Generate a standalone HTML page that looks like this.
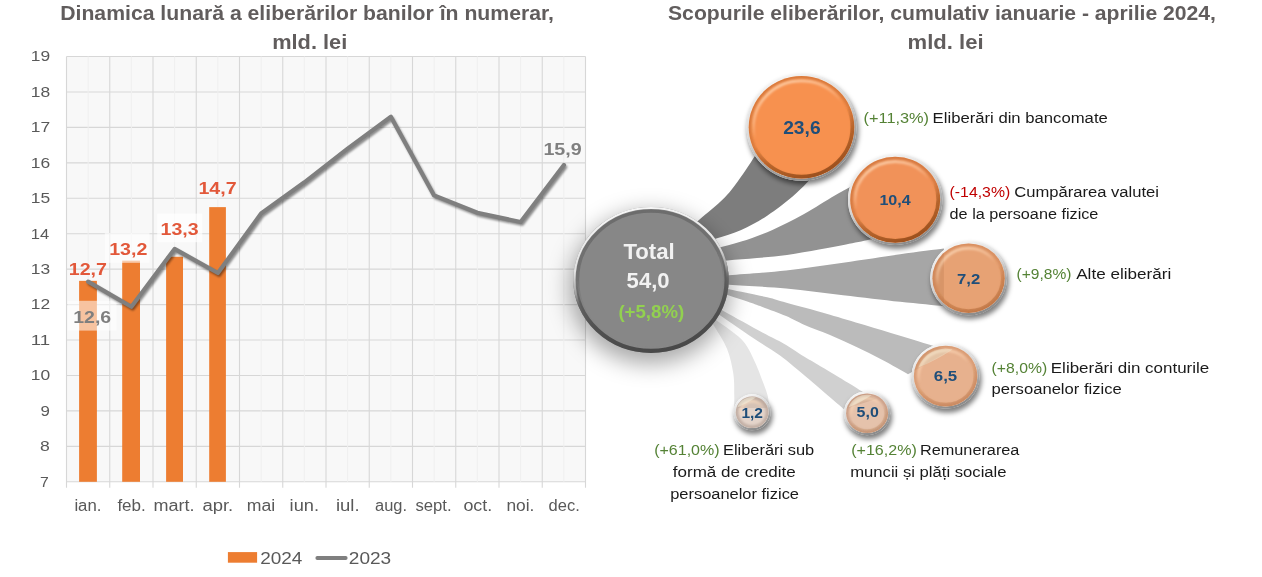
<!DOCTYPE html>
<html lang="ro"><head><meta charset="utf-8"><title>Eliberări numerar</title>
<style>html,body{margin:0;padding:0;background:#fff;}body{width:1262px;height:577px;overflow:hidden;}svg{display:block;}</style>
</head><body>
<svg width="1262" height="577" viewBox="0 0 1262 577" font-family='"Liberation Sans", sans-serif'>
<defs>
<filter id="sh" x="-50%" y="-50%" width="200%" height="200%"><feGaussianBlur stdDeviation="11"/></filter>
<filter id="sh2" x="-30%" y="-30%" width="160%" height="160%"><feGaussianBlur stdDeviation="2.6"/></filter>
<filter id="b1" x="-10%" y="-10%" width="120%" height="120%"><feGaussianBlur stdDeviation="1.3"/></filter>
<filter id="b05" x="-10%" y="-10%" width="120%" height="120%"><feGaussianBlur stdDeviation="0.7"/></filter>
<linearGradient id="eT" x1="0.4" y1="0" x2="0.6" y2="1">
 <stop offset="0" stop-color="#f6f6f6"/><stop offset="0.36" stop-color="#e0e0e0"/>
 <stop offset="0.5" stop-color="#a0a0a0"/><stop offset="0.58" stop-color="#6a6a6a" stop-opacity="0.6"/><stop offset="0.7" stop-color="#5a5a5a" stop-opacity="0"/><stop offset="1" stop-color="#4a4a4a" stop-opacity="0"/>
</linearGradient>
<linearGradient id="eT2" x1="0.4" y1="0" x2="0.6" y2="1">
 <stop offset="0" stop-color="#555" stop-opacity="0"/><stop offset="0.42" stop-color="#555" stop-opacity="0"/>
 <stop offset="0.56" stop-color="#5a5a5a" stop-opacity="0.9"/><stop offset="0.75" stop-color="#515151"/><stop offset="1" stop-color="#484848"/>
</linearGradient>
<linearGradient id="iT" x1="0.4" y1="0" x2="0.6" y2="1">
 <stop offset="0" stop-color="#6c6c6c"/><stop offset="0.4" stop-color="#727272"/>
 <stop offset="0.6" stop-color="#808080" stop-opacity="0.5"/><stop offset="1" stop-color="#878787" stop-opacity="0"/>
</linearGradient>
<linearGradient id="eO" x1="0.3" y1="0.05" x2="0.7" y2="0.95">
 <stop offset="0" stop-color="#f2f2f2"/><stop offset="0.45" stop-color="#d4d4d4"/>
 <stop offset="0.7" stop-color="#a8a8a8"/><stop offset="1" stop-color="#8c8c8c"/>
</linearGradient>
<linearGradient id="dO" x1="0.3" y1="0.05" x2="0.7" y2="0.95">
 <stop offset="0" stop-color="#a85a24" stop-opacity="0"/><stop offset="0.5" stop-color="#a85a24" stop-opacity="0"/>
 <stop offset="0.72" stop-color="#a85a24" stop-opacity="0.75"/><stop offset="1" stop-color="#9a4f1e" stop-opacity="0.95"/>
</linearGradient>
<linearGradient id="hO" x1="0.3" y1="0.05" x2="0.7" y2="0.95">
 <stop offset="0" stop-color="#ffe2c4" stop-opacity="0.7"/><stop offset="0.25" stop-color="#ffd9b8" stop-opacity="0.45"/>
 <stop offset="0.42" stop-color="#ffd9b8" stop-opacity="0"/><stop offset="1" stop-color="#ffd9b8" stop-opacity="0"/>
</linearGradient>
</defs>
<rect width="1262" height="577" fill="#ffffff"/>
<rect x="66.5" y="56.5" width="519.0" height="425.3" fill="#f8f8f8"/>
<line x1="66.5" y1="481.80" x2="585.5" y2="481.80" stroke="#d7d7d7" stroke-width="1.1"/>
<line x1="66.5" y1="446.36" x2="585.5" y2="446.36" stroke="#d7d7d7" stroke-width="1.1"/>
<line x1="66.5" y1="410.92" x2="585.5" y2="410.92" stroke="#d7d7d7" stroke-width="1.1"/>
<line x1="66.5" y1="375.48" x2="585.5" y2="375.48" stroke="#d7d7d7" stroke-width="1.1"/>
<line x1="66.5" y1="340.03" x2="585.5" y2="340.03" stroke="#d7d7d7" stroke-width="1.1"/>
<line x1="66.5" y1="304.59" x2="585.5" y2="304.59" stroke="#d7d7d7" stroke-width="1.1"/>
<line x1="66.5" y1="269.15" x2="585.5" y2="269.15" stroke="#d7d7d7" stroke-width="1.1"/>
<line x1="66.5" y1="233.71" x2="585.5" y2="233.71" stroke="#d7d7d7" stroke-width="1.1"/>
<line x1="66.5" y1="198.27" x2="585.5" y2="198.27" stroke="#d7d7d7" stroke-width="1.1"/>
<line x1="66.5" y1="162.83" x2="585.5" y2="162.83" stroke="#d7d7d7" stroke-width="1.1"/>
<line x1="66.5" y1="127.38" x2="585.5" y2="127.38" stroke="#d7d7d7" stroke-width="1.1"/>
<line x1="66.5" y1="91.94" x2="585.5" y2="91.94" stroke="#d7d7d7" stroke-width="1.1"/>
<line x1="66.5" y1="56.50" x2="585.5" y2="56.50" stroke="#d7d7d7" stroke-width="1.1"/>
<line x1="88.12" y1="56.5" x2="88.12" y2="481.8" stroke="#efefef" stroke-width="1"/>
<line x1="131.38" y1="56.5" x2="131.38" y2="481.8" stroke="#efefef" stroke-width="1"/>
<line x1="174.62" y1="56.5" x2="174.62" y2="481.8" stroke="#efefef" stroke-width="1"/>
<line x1="217.88" y1="56.5" x2="217.88" y2="481.8" stroke="#efefef" stroke-width="1"/>
<line x1="261.12" y1="56.5" x2="261.12" y2="481.8" stroke="#efefef" stroke-width="1"/>
<line x1="304.38" y1="56.5" x2="304.38" y2="481.8" stroke="#efefef" stroke-width="1"/>
<line x1="347.62" y1="56.5" x2="347.62" y2="481.8" stroke="#efefef" stroke-width="1"/>
<line x1="390.88" y1="56.5" x2="390.88" y2="481.8" stroke="#efefef" stroke-width="1"/>
<line x1="434.12" y1="56.5" x2="434.12" y2="481.8" stroke="#efefef" stroke-width="1"/>
<line x1="477.38" y1="56.5" x2="477.38" y2="481.8" stroke="#efefef" stroke-width="1"/>
<line x1="520.62" y1="56.5" x2="520.62" y2="481.8" stroke="#efefef" stroke-width="1"/>
<line x1="563.88" y1="56.5" x2="563.88" y2="481.8" stroke="#efefef" stroke-width="1"/>
<line x1="66.50" y1="56.5" x2="66.50" y2="487.8" stroke="#d7d7d7" stroke-width="1.1"/>
<line x1="109.75" y1="56.5" x2="109.75" y2="487.8" stroke="#d7d7d7" stroke-width="1.1"/>
<line x1="153.00" y1="56.5" x2="153.00" y2="487.8" stroke="#d7d7d7" stroke-width="1.1"/>
<line x1="196.25" y1="56.5" x2="196.25" y2="487.8" stroke="#d7d7d7" stroke-width="1.1"/>
<line x1="239.50" y1="56.5" x2="239.50" y2="487.8" stroke="#d7d7d7" stroke-width="1.1"/>
<line x1="282.75" y1="56.5" x2="282.75" y2="487.8" stroke="#d7d7d7" stroke-width="1.1"/>
<line x1="326.00" y1="56.5" x2="326.00" y2="487.8" stroke="#d7d7d7" stroke-width="1.1"/>
<line x1="369.25" y1="56.5" x2="369.25" y2="487.8" stroke="#d7d7d7" stroke-width="1.1"/>
<line x1="412.50" y1="56.5" x2="412.50" y2="487.8" stroke="#d7d7d7" stroke-width="1.1"/>
<line x1="455.75" y1="56.5" x2="455.75" y2="487.8" stroke="#d7d7d7" stroke-width="1.1"/>
<line x1="499.00" y1="56.5" x2="499.00" y2="487.8" stroke="#d7d7d7" stroke-width="1.1"/>
<line x1="542.25" y1="56.5" x2="542.25" y2="487.8" stroke="#d7d7d7" stroke-width="1.1"/>
<line x1="585.50" y1="56.5" x2="585.50" y2="487.8" stroke="#d7d7d7" stroke-width="1.1"/>
<text x="40.00" y="486.60" font-size="14.9" fill="#595959" textLength="8.80" lengthAdjust="spacingAndGlyphs">7</text>
<text x="40.00" y="451.16" font-size="14.9" fill="#595959" textLength="9.80" lengthAdjust="spacingAndGlyphs">8</text>
<text x="40.60" y="415.72" font-size="14.9" fill="#595959" textLength="9.40" lengthAdjust="spacingAndGlyphs">9</text>
<text x="30.80" y="380.28" font-size="14.9" fill="#595959" textLength="19.40" lengthAdjust="spacingAndGlyphs">10</text>
<text x="30.80" y="344.83" font-size="14.9" fill="#595959" textLength="19.40" lengthAdjust="spacingAndGlyphs">11</text>
<text x="30.80" y="309.39" font-size="14.9" fill="#595959" textLength="19.40" lengthAdjust="spacingAndGlyphs">12</text>
<text x="30.80" y="273.95" font-size="14.9" fill="#595959" textLength="19.40" lengthAdjust="spacingAndGlyphs">13</text>
<text x="30.80" y="238.51" font-size="14.9" fill="#595959" textLength="18.40" lengthAdjust="spacingAndGlyphs">14</text>
<text x="30.80" y="203.07" font-size="14.9" fill="#595959" textLength="19.40" lengthAdjust="spacingAndGlyphs">15</text>
<text x="30.80" y="167.63" font-size="14.9" fill="#595959" textLength="19.40" lengthAdjust="spacingAndGlyphs">16</text>
<text x="30.80" y="132.18" font-size="14.9" fill="#595959" textLength="19.40" lengthAdjust="spacingAndGlyphs">17</text>
<text x="30.80" y="96.74" font-size="14.9" fill="#595959" textLength="19.40" lengthAdjust="spacingAndGlyphs">18</text>
<text x="30.80" y="61.30" font-size="14.9" fill="#595959" textLength="19.40" lengthAdjust="spacingAndGlyphs">19</text>
<rect x="79.1" y="280.85" width="17.8" height="200.95" fill="#ed7d31"/>
<rect x="122.2" y="260.64" width="17.8" height="221.16" fill="#ed7d31"/>
<rect x="166.1" y="256.75" width="16.9" height="225.05" fill="#ed7d31"/>
<rect x="209.2" y="207.13" width="16.7" height="274.67" fill="#ed7d31"/>
<rect x="104.8" y="233.0" width="44.7" height="29.8" fill="#ffffff" fill-opacity="0.6"/>
<rect x="157.2" y="213.6" width="45.1" height="28.6" fill="#ffffff" fill-opacity="0.68"/>
<rect x="67.5" y="300.8" width="49.0" height="29.8" fill="#ffffff" fill-opacity="0.54"/>
<polyline points="88.1,281.6 131.4,306.7 174.6,248.9 217.9,273.0 261.1,213.5 304.4,182.3 347.6,148.6 390.9,116.8 434.1,195.4 477.4,212.8 520.6,222.0 563.9,165.0" fill="none" stroke="#000" stroke-opacity="0.45" stroke-width="3.8" stroke-linejoin="round" stroke-linecap="round" transform="translate(1.4,2)" filter="url(#b1)"/>
<polyline points="88.1,281.6 131.4,306.7 174.6,248.9 217.9,273.0 261.1,213.5 304.4,182.3 347.6,148.6 390.9,116.8 434.1,195.4 477.4,212.8 520.6,222.0 563.9,165.0" fill="none" stroke="#7f7f7f" stroke-width="4.2" stroke-linejoin="round" stroke-linecap="round"/>
<text x="68.80" y="274.60" font-size="17.3" fill="#e2583a" font-weight="700" textLength="38.20" lengthAdjust="spacingAndGlyphs">12,7</text>
<text x="109.20" y="254.60" font-size="17.3" fill="#e2583a" font-weight="700" textLength="38.20" lengthAdjust="spacingAndGlyphs">13,2</text>
<text x="160.60" y="234.80" font-size="17.3" fill="#e2583a" font-weight="700" textLength="38.00" lengthAdjust="spacingAndGlyphs">13,3</text>
<text x="198.40" y="194.30" font-size="17.3" fill="#e2583a" font-weight="700" textLength="38.20" lengthAdjust="spacingAndGlyphs">14,7</text>
<text x="73.20" y="323.20" font-size="17.3" fill="#7f7f7f" font-weight="700" textLength="38.00" lengthAdjust="spacingAndGlyphs">12,6</text>
<text x="543.40" y="155.20" font-size="17.3" fill="#7f7f7f" font-weight="700" textLength="38.40" lengthAdjust="spacingAndGlyphs">15,9</text>
<text x="74.40" y="510.90" font-size="16" fill="#595959" textLength="27.00" lengthAdjust="spacingAndGlyphs">ian.</text>
<text x="117.40" y="510.90" font-size="16" fill="#595959" textLength="28.40" lengthAdjust="spacingAndGlyphs">feb.</text>
<text x="153.60" y="510.90" font-size="16" fill="#595959" textLength="41.00" lengthAdjust="spacingAndGlyphs">mart.</text>
<text x="202.40" y="510.90" font-size="16" fill="#595959" textLength="30.80" lengthAdjust="spacingAndGlyphs">apr.</text>
<text x="246.80" y="510.80" font-size="16" fill="#595959" textLength="28.40" lengthAdjust="spacingAndGlyphs">mai</text>
<text x="289.60" y="510.80" font-size="16" fill="#595959" textLength="29.40" lengthAdjust="spacingAndGlyphs">iun.</text>
<text x="336.00" y="510.80" font-size="16" fill="#595959" textLength="23.60" lengthAdjust="spacingAndGlyphs">iul.</text>
<text x="375.00" y="510.80" font-size="16" fill="#595959" textLength="32.00" lengthAdjust="spacingAndGlyphs">aug.</text>
<text x="415.40" y="510.80" font-size="16" fill="#595959" textLength="36.20" lengthAdjust="spacingAndGlyphs">sept.</text>
<text x="463.40" y="510.80" font-size="16" fill="#595959" textLength="28.80" lengthAdjust="spacingAndGlyphs">oct.</text>
<text x="506.40" y="510.80" font-size="16" fill="#595959" textLength="28.00" lengthAdjust="spacingAndGlyphs">noi.</text>
<text x="548.60" y="510.80" font-size="16" fill="#595959" textLength="31.20" lengthAdjust="spacingAndGlyphs">dec.</text>
<rect x="227.9" y="552.1" width="29.2" height="10.6" fill="#ed7d31"/>
<text x="260.20" y="563.80" font-size="17.4" fill="#595959" textLength="42.20" lengthAdjust="spacingAndGlyphs">2024</text>
<line x1="317.4" y1="558" x2="345.6" y2="558" stroke="#7f7f7f" stroke-width="4" stroke-linecap="round"/>
<text x="348.80" y="563.80" font-size="17.4" fill="#595959" textLength="42.40" lengthAdjust="spacingAndGlyphs">2023</text>
<text x="60.20" y="19.50" font-size="20.8" fill="#615d5d" font-weight="700" textLength="493.80" lengthAdjust="spacingAndGlyphs">Dinamica lunară a eliberărilor banilor în numerar,</text>
<text x="272.20" y="48.80" font-size="20.8" fill="#615d5d" font-weight="700" textLength="75.00" lengthAdjust="spacingAndGlyphs">mld. lei</text>
<text x="668.00" y="19.50" font-size="20.8" fill="#615d5d" font-weight="700" textLength="548.00" lengthAdjust="spacingAndGlyphs">Scopurile eliberărilor, cumulativ ianuarie - aprilie 2024,</text>
<text x="907.60" y="48.90" font-size="20.8" fill="#615d5d" font-weight="700" textLength="76.00" lengthAdjust="spacingAndGlyphs">mld. lei</text>
<path d="M682.1,234.7 C684.9,232.3 691.6,226.4 698.7,220.2 C705.8,214.0 717.7,204.7 724.7,197.5 C731.8,190.3 736.0,183.7 741.0,176.8 C746.0,170.0 751.1,161.5 754.6,156.4 C758.1,151.3 760.8,147.7 762.0,146.0 L812.0,177.0 C810.6,178.5 807.6,182.3 803.6,186.2 C799.6,190.1 794.5,195.1 788.0,200.3 C781.5,205.5 772.4,212.5 764.6,217.4 C756.8,222.3 749.3,226.4 741.2,229.9 C733.1,233.4 723.8,235.9 716.2,238.5 C708.6,241.1 698.9,244.5 695.4,245.7 Z" fill="#7d7d7d"/>
<path d="M695.2,253.9 C698.8,252.9 708.8,250.2 716.5,248.2 C724.2,246.2 731.9,244.6 741.2,241.6 C750.5,238.6 762.0,234.4 772.4,229.9 C782.8,225.4 793.2,220.0 803.6,214.3 C814.0,208.6 827.3,200.0 834.8,195.6 C842.3,191.2 844.9,190.1 848.8,187.8 C852.7,185.5 856.5,183.0 858.0,182.0 L880.0,237.0 C878.2,237.5 874.7,238.6 869.0,239.8 C863.3,241.1 854.3,242.9 846.0,244.5 C837.7,246.1 828.8,247.8 819.0,249.5 C809.2,251.2 797.3,253.6 787.0,255.0 C776.7,256.4 766.9,257.1 757.0,258.0 C747.1,258.9 736.1,259.7 727.5,260.4 C718.9,261.1 709.2,261.9 705.6,262.2 Z" fill="#929292"/>
<path d="M707.1,277.0 C710.7,276.7 715.8,276.3 729.0,275.2 C742.2,274.1 767.1,272.5 786.1,270.4 C805.1,268.3 824.1,265.5 843.1,262.8 C862.1,260.1 883.4,256.7 900.2,254.3 C917.0,251.9 936.6,249.6 943.9,248.6 L943.9,306.2 C936.6,305.5 917.0,303.6 900.2,301.8 C883.4,300.0 862.1,297.4 843.1,295.2 C824.1,293.0 805.1,290.2 786.1,288.5 C767.1,286.8 742.2,285.6 729.0,284.7 C715.8,283.8 710.7,283.5 707.0,283.2 Z" fill="#a6a6a6"/>
<path d="M707.6,284.8 C711.2,285.5 719.2,287.2 729.1,289.3 C739.0,291.4 758.1,295.2 767.1,297.3 C776.1,299.4 776.9,300.1 783.2,301.8 C789.5,303.6 797.3,305.7 805.1,307.8 C812.9,309.9 820.1,311.8 830.0,314.7 C839.9,317.6 853.2,321.6 864.7,325.1 C876.2,328.6 888.3,332.2 899.3,335.5 C910.3,338.8 922.0,342.6 930.5,345.1 C939.0,347.6 946.8,349.6 950.0,350.5 L908.0,374.2 C903.7,371.8 890.7,364.4 882.0,359.8 C873.3,355.2 864.7,350.9 856.0,346.8 C847.3,342.7 838.7,338.7 830.0,335.0 C821.3,331.3 811.3,327.8 804.0,324.7 C796.7,321.6 793.0,319.1 786.1,316.1 C779.2,313.2 768.8,309.4 762.4,307.0 C756.0,304.6 753.5,303.7 748.0,301.8 C742.5,299.9 735.7,297.8 729.1,295.6 C722.5,293.4 711.7,289.9 708.2,288.7 Z" fill="#bbbbbb"/>
<path d="M704.6,300.5 C707.9,302.3 714.3,305.9 723.9,311.2 C733.5,316.5 752.5,327.1 762.4,332.5 C772.3,337.9 776.6,339.5 783.5,343.5 C790.4,347.5 798.8,353.3 804.0,356.5 C809.2,359.7 807.2,358.3 814.7,362.8 C822.2,367.3 841.5,378.8 849.3,383.5 C857.1,388.2 857.0,388.5 861.5,391.1 C866.0,393.7 873.6,397.7 876.0,399.0 L844.1,409.3 C842.1,407.6 838.4,404.3 832.0,398.9 C825.6,393.5 814.7,384.0 806.0,376.8 C797.3,369.6 789.0,362.1 780.0,355.5 C771.0,348.9 761.7,343.7 752.0,337.2 C742.3,330.7 729.9,321.9 721.8,316.4 C713.7,310.9 706.7,306.0 703.7,303.9 Z" fill="#d0d0d0"/>
<path d="M701.6,309.6 C704.6,311.8 714.4,318.9 719.5,322.5 C724.6,326.1 727.8,328.1 732.0,331.5 C736.2,334.9 740.9,337.9 744.7,343.0 C748.6,348.1 752.0,355.7 755.1,362.4 C758.2,369.1 761.3,377.7 763.4,383.2 C765.5,388.7 766.6,391.5 767.6,395.6 C768.6,399.7 769.2,405.9 769.5,408.0 L734.0,408.0 C734.0,406.1 734.4,402.2 734.3,396.5 C734.2,390.8 734.5,381.6 733.3,373.6 C732.1,365.6 730.1,356.5 727.0,348.7 C723.9,340.9 718.5,333.6 714.6,326.8 C710.7,320.0 705.6,310.8 703.8,307.7 Z" fill="#e5e5e5"/>
<ellipse cx="650.0" cy="287.9" rx="80.7" ry="76.0" fill="#000" fill-opacity="0.34" filter="url(#sh)"/>
<ellipse cx="651.0" cy="279.9" rx="77.7" ry="73.0" fill="#878787"/>
<ellipse cx="651.0" cy="279.9" rx="73.5" ry="68.8" fill="none" stroke="url(#iT)" stroke-width="3.4" filter="url(#b05)"/>
<ellipse cx="651.0" cy="279.9" rx="75.6" ry="70.9" fill="none" stroke="url(#eT2)" stroke-width="4.2"/>
<ellipse cx="651.0" cy="279.9" rx="76.6" ry="71.9" fill="none" stroke="url(#eT)" stroke-width="2.2"/>
<text x="623.40" y="259.00" font-size="21.6" fill="#f2f2f2" font-weight="700" textLength="51.40" lengthAdjust="spacingAndGlyphs">Total</text>
<text x="626.60" y="288.10" font-size="21.2" fill="#f2f2f2" font-weight="700" textLength="43.00" lengthAdjust="spacingAndGlyphs">54,0</text>
<text x="618.40" y="317.90" font-size="18.2" fill="#92d050" font-weight="700" textLength="65.80" lengthAdjust="spacingAndGlyphs">(+5,8%)</text>
<ellipse cx="803.0" cy="130.8" rx="55.5" ry="53.9" fill="#000" fill-opacity="0.5" filter="url(#sh2)"/>
<ellipse cx="801.5" cy="127.3" rx="55.0" ry="53.4" fill="#ffffff"/>
<ellipse cx="801.5" cy="127.3" rx="53.9" ry="52.3" fill="none" stroke="url(#eO)" stroke-width="2.2"/>
<ellipse cx="801.5" cy="127.3" rx="52.8" ry="51.2" fill="#f7914f"/>
<clipPath id="cp0"><ellipse cx="801.5" cy="127.3" rx="52.8" ry="51.2"/></clipPath>
<g clip-path="url(#cp0)">
<ellipse cx="801.5" cy="127.3" rx="52.4" ry="50.8" fill="none" stroke="#b85f25" stroke-opacity="0.45" stroke-width="5" filter="url(#b1)"/>
<ellipse cx="801.5" cy="127.3" rx="51.0" ry="49.4" fill="none" stroke="url(#dO)" stroke-opacity="1.0" stroke-width="4.0" filter="url(#b05)"/>
<ellipse cx="801.5" cy="127.3" rx="48.0" ry="46.4" fill="none" stroke="url(#hO)" stroke-width="2.6" filter="url(#b1)"/>
</g>
<text x="783.20" y="133.50" font-size="17.8" fill="#1f4e79" font-weight="700" textLength="37.40" lengthAdjust="spacingAndGlyphs">23,6</text>
<ellipse cx="896.7" cy="203.3" rx="47.7" ry="45.7" fill="#000" fill-opacity="0.5" filter="url(#sh2)"/>
<ellipse cx="895.2" cy="199.8" rx="47.2" ry="45.2" fill="#ffffff"/>
<ellipse cx="895.2" cy="199.8" rx="46.1" ry="44.1" fill="none" stroke="url(#eO)" stroke-width="2.2"/>
<ellipse cx="895.2" cy="199.8" rx="45.0" ry="43.0" fill="#f19259"/>
<clipPath id="cp1"><ellipse cx="895.2" cy="199.8" rx="45.0" ry="43.0"/></clipPath>
<g clip-path="url(#cp1)">
<ellipse cx="895.2" cy="199.8" rx="44.6" ry="42.6" fill="none" stroke="#b85f25" stroke-opacity="0.45" stroke-width="5" filter="url(#b1)"/>
<ellipse cx="895.2" cy="199.8" rx="43.2" ry="41.2" fill="none" stroke="url(#dO)" stroke-opacity="1.0" stroke-width="4.0" filter="url(#b05)"/>
<ellipse cx="895.2" cy="199.8" rx="40.2" ry="38.2" fill="none" stroke="url(#hO)" stroke-width="2.6" filter="url(#b1)"/>
</g>
<text x="879.40" y="205.30" font-size="15.0" fill="#1f4e79" font-weight="700" textLength="31.40" lengthAdjust="spacingAndGlyphs">10,4</text>
<ellipse cx="970.1" cy="281.7" rx="38.9" ry="37.5" fill="#000" fill-opacity="0.5" filter="url(#sh2)"/>
<ellipse cx="968.6" cy="278.2" rx="38.4" ry="37.0" fill="#ffffff"/>
<ellipse cx="968.6" cy="278.2" rx="37.3" ry="35.9" fill="none" stroke="url(#eO)" stroke-width="2.2"/>
<ellipse cx="968.6" cy="278.2" rx="36.2" ry="34.8" fill="#e7a274"/>
<clipPath id="cp2"><ellipse cx="968.6" cy="278.2" rx="36.2" ry="34.8"/></clipPath>
<g clip-path="url(#cp2)">
<path d="M707.1,277.0 C710.7,276.7 715.8,276.3 729.0,275.2 C742.2,274.1 767.1,272.5 786.1,270.4 C805.1,268.3 824.1,265.5 843.1,262.8 C862.1,260.1 883.4,256.7 900.2,254.3 C917.0,251.9 936.6,249.6 943.9,248.6 L943.9,306.2 C936.6,305.5 917.0,303.6 900.2,301.8 C883.4,300.0 862.1,297.4 843.1,295.2 C824.1,293.0 805.1,290.2 786.1,288.5 C767.1,286.8 742.2,285.6 729.0,284.7 C715.8,283.8 710.7,283.5 707.0,283.2 Z" fill="#5a2a00" fill-opacity="0.10"/>
<ellipse cx="968.6" cy="278.2" rx="35.8" ry="34.4" fill="none" stroke="#c27543" stroke-opacity="0.4" stroke-width="5" filter="url(#b1)"/>
<ellipse cx="968.6" cy="278.2" rx="34.4" ry="33.0" fill="none" stroke="url(#dO)" stroke-opacity="0.38" stroke-width="4.0" filter="url(#b05)"/>
<ellipse cx="968.6" cy="278.2" rx="31.4" ry="30.0" fill="none" stroke="url(#hO)" stroke-width="2.6" filter="url(#b1)"/>
</g>
<text x="957.00" y="283.80" font-size="15.0" fill="#1f4e79" font-weight="700" textLength="23.20" lengthAdjust="spacingAndGlyphs">7,2</text>
<ellipse cx="947.1" cy="379.6" rx="34.5" ry="33.1" fill="#000" fill-opacity="0.5" filter="url(#sh2)"/>
<ellipse cx="945.6" cy="376.1" rx="34.0" ry="32.6" fill="#ffffff"/>
<ellipse cx="945.6" cy="376.1" rx="32.9" ry="31.5" fill="none" stroke="url(#eO)" stroke-width="2.2"/>
<ellipse cx="945.6" cy="376.1" rx="31.8" ry="30.4" fill="#e7b18e"/>
<clipPath id="cp3"><ellipse cx="945.6" cy="376.1" rx="31.8" ry="30.4"/></clipPath>
<g clip-path="url(#cp3)">
<path d="M707.6,284.8 C711.2,285.5 719.2,287.2 729.1,289.3 C739.0,291.4 758.1,295.2 767.1,297.3 C776.1,299.4 776.9,300.1 783.2,301.8 C789.5,303.6 797.3,305.7 805.1,307.8 C812.9,309.9 820.1,311.8 830.0,314.7 C839.9,317.6 853.2,321.6 864.7,325.1 C876.2,328.6 888.3,332.2 899.3,335.5 C910.3,338.8 922.0,342.6 930.5,345.1 C939.0,347.6 946.8,349.6 950.0,350.5 L908.0,374.2 C903.7,371.8 890.7,364.4 882.0,359.8 C873.3,355.2 864.7,350.9 856.0,346.8 C847.3,342.7 838.7,338.7 830.0,335.0 C821.3,331.3 811.3,327.8 804.0,324.7 C796.7,321.6 793.0,319.1 786.1,316.1 C779.2,313.2 768.8,309.4 762.4,307.0 C756.0,304.6 753.5,303.7 748.0,301.8 C742.5,299.9 735.7,297.8 729.1,295.6 C722.5,293.4 711.7,289.9 708.2,288.7 Z" fill="#5a2a00" fill-opacity="0.10"/>
<ellipse cx="945.6" cy="376.1" rx="31.4" ry="30.0" fill="none" stroke="#c98559" stroke-opacity="0.45" stroke-width="5" filter="url(#b1)"/>
<ellipse cx="945.6" cy="376.1" rx="30.0" ry="28.6" fill="none" stroke="url(#dO)" stroke-opacity="0.25" stroke-width="4.0" filter="url(#b05)"/>
<ellipse cx="945.6" cy="376.1" rx="27.0" ry="25.6" fill="none" stroke="url(#hO)" stroke-width="2.6" filter="url(#b1)"/>
<path d="M918.4,367.6 A28.6,27.4 0 0 1 952.5,349.5 Q936.4,360.1 918.4,367.6 Z" fill="#f4f0dc" fill-opacity="0.42" filter="url(#b05)"/>
</g>
<text x="933.80" y="381.40" font-size="15.0" fill="#1f4e79" font-weight="700" textLength="23.40" lengthAdjust="spacingAndGlyphs">6,5</text>
<ellipse cx="868.6" cy="416.7" rx="23.7" ry="22.5" fill="#000" fill-opacity="0.5" filter="url(#sh2)"/>
<ellipse cx="867.1" cy="413.2" rx="23.2" ry="22.0" fill="#ffffff"/>
<ellipse cx="867.1" cy="413.2" rx="22.1" ry="20.9" fill="none" stroke="url(#eO)" stroke-width="2.2"/>
<ellipse cx="867.1" cy="413.2" rx="21.0" ry="19.8" fill="#e5c2ab"/>
<clipPath id="cp4"><ellipse cx="867.1" cy="413.2" rx="21.0" ry="19.8"/></clipPath>
<g clip-path="url(#cp4)">
<path d="M704.6,300.5 C707.9,302.3 714.3,305.9 723.9,311.2 C733.5,316.5 752.5,327.1 762.4,332.5 C772.3,337.9 776.6,339.5 783.5,343.5 C790.4,347.5 798.8,353.3 804.0,356.5 C809.2,359.7 807.2,358.3 814.7,362.8 C822.2,367.3 841.5,378.8 849.3,383.5 C857.1,388.2 857.0,388.5 861.5,391.1 C866.0,393.7 873.6,397.7 876.0,399.0 L844.1,409.3 C842.1,407.6 838.4,404.3 832.0,398.9 C825.6,393.5 814.7,384.0 806.0,376.8 C797.3,369.6 789.0,362.1 780.0,355.5 C771.0,348.9 761.7,343.7 752.0,337.2 C742.3,330.7 729.9,321.9 721.8,316.4 C713.7,310.9 706.7,306.0 703.7,303.9 Z" fill="#5a2a00" fill-opacity="0.10"/>
<ellipse cx="867.1" cy="413.2" rx="20.6" ry="19.4" fill="none" stroke="#c0907a" stroke-opacity="0.65" stroke-width="5" filter="url(#b1)"/>
<ellipse cx="867.1" cy="413.2" rx="19.2" ry="18.0" fill="none" stroke="url(#dO)" stroke-opacity="0.15" stroke-width="4.0" filter="url(#b05)"/>
<ellipse cx="867.1" cy="413.2" rx="16.2" ry="15.0" fill="none" stroke="url(#hO)" stroke-width="2.6" filter="url(#b1)"/>
<path d="M848.6,407.5 A19.5,18.5 0 0 1 871.8,395.3 Q860.8,402.4 848.6,407.5 Z" fill="#f4f0dc" fill-opacity="0.5" filter="url(#b05)"/>
</g>
<text x="856.60" y="417.20" font-size="14.4" fill="#1f4e79" font-weight="700" textLength="22.20" lengthAdjust="spacingAndGlyphs">5,0</text>
<ellipse cx="753.6" cy="415.8" rx="19.1" ry="18.5" fill="#000" fill-opacity="0.5" filter="url(#sh2)"/>
<ellipse cx="752.1" cy="412.3" rx="18.6" ry="18.0" fill="#ffffff"/>
<ellipse cx="752.1" cy="412.3" rx="17.5" ry="16.9" fill="none" stroke="url(#eO)" stroke-width="2.2"/>
<ellipse cx="752.1" cy="412.3" rx="16.4" ry="15.8" fill="#e4d4ca"/>
<clipPath id="cp5"><ellipse cx="752.1" cy="412.3" rx="16.4" ry="15.8"/></clipPath>
<g clip-path="url(#cp5)">
<path d="M701.6,309.6 C704.6,311.8 714.4,318.9 719.5,322.5 C724.6,326.1 727.8,328.1 732.0,331.5 C736.2,334.9 740.9,337.9 744.7,343.0 C748.6,348.1 752.0,355.7 755.1,362.4 C758.2,369.1 761.3,377.7 763.4,383.2 C765.5,388.7 766.6,391.5 767.6,395.6 C768.6,399.7 769.2,405.9 769.5,408.0 L734.0,408.0 C734.0,406.1 734.4,402.2 734.3,396.5 C734.2,390.8 734.5,381.6 733.3,373.6 C732.1,365.6 730.1,356.5 727.0,348.7 C723.9,340.9 718.5,333.6 714.6,326.8 C710.7,320.0 705.6,310.8 703.8,307.7 Z" fill="#5a2a00" fill-opacity="0.10"/>
<ellipse cx="752.1" cy="412.3" rx="16.0" ry="15.4" fill="none" stroke="#b5a197" stroke-opacity="0.7" stroke-width="5" filter="url(#b1)"/>
<ellipse cx="752.1" cy="412.3" rx="11.6" ry="11.0" fill="none" stroke="url(#hO)" stroke-width="2.6" filter="url(#b1)"/>
<path d="M737.2,407.6 A15.6,15.1 0 0 1 755.9,397.6 Q747.1,403.5 737.2,407.6 Z" fill="#f4f0dc" fill-opacity="0.55" filter="url(#b05)"/>
</g>
<text x="741.40" y="417.70" font-size="14.4" fill="#1f4e79" font-weight="700" textLength="21.60" lengthAdjust="spacingAndGlyphs">1,2</text>
<text x="863.60" y="122.90" font-size="15.5" fill="#548235" textLength="65.40" lengthAdjust="spacingAndGlyphs">(+11,3%)</text>
<text x="932.60" y="122.90" font-size="15.5" fill="#1a1a1a" textLength="175.20" lengthAdjust="spacingAndGlyphs">Eliberări din bancomate</text>
<text x="949.60" y="197.20" font-size="15.5" fill="#c00000" textLength="60.60" lengthAdjust="spacingAndGlyphs">(-14,3%)</text>
<text x="1014.20" y="197.20" font-size="15.5" fill="#1a1a1a" textLength="144.80" lengthAdjust="spacingAndGlyphs">Cumpărarea valutei</text>
<text x="949.60" y="218.50" font-size="15.5" fill="#1a1a1a" textLength="148.80" lengthAdjust="spacingAndGlyphs">de la persoane fizice</text>
<text x="1016.60" y="278.60" font-size="15.5" fill="#548235" textLength="54.80" lengthAdjust="spacingAndGlyphs">(+9,8%)</text>
<text x="1076.20" y="278.60" font-size="15.5" fill="#1a1a1a" textLength="95.00" lengthAdjust="spacingAndGlyphs">Alte eliberări</text>
<text x="991.60" y="372.60" font-size="15.5" fill="#548235" textLength="55.60" lengthAdjust="spacingAndGlyphs">(+8,0%)</text>
<text x="1050.80" y="372.60" font-size="15.5" fill="#1a1a1a" textLength="158.40" lengthAdjust="spacingAndGlyphs">Eliberări din conturile</text>
<text x="991.60" y="394.00" font-size="15.5" fill="#1a1a1a" textLength="130.20" lengthAdjust="spacingAndGlyphs">persoanelor fizice</text>
<text x="851.20" y="455.10" font-size="15.5" fill="#548235" textLength="65.60" lengthAdjust="spacingAndGlyphs">(+16,2%)</text>
<text x="920.00" y="455.10" font-size="15.5" fill="#1a1a1a" textLength="99.40" lengthAdjust="spacingAndGlyphs">Remunerarea</text>
<text x="850.20" y="477.30" font-size="15.5" fill="#1a1a1a" textLength="156.40" lengthAdjust="spacingAndGlyphs">muncii și plăți sociale</text>
<text x="654.20" y="455.10" font-size="15.5" fill="#548235" textLength="65.40" lengthAdjust="spacingAndGlyphs">(+61,0%)</text>
<text x="723.00" y="455.10" font-size="15.5" fill="#1a1a1a" textLength="91.20" lengthAdjust="spacingAndGlyphs">Eliberări sub</text>
<text x="672.80" y="477.30" font-size="15.5" fill="#1a1a1a" textLength="123.00" lengthAdjust="spacingAndGlyphs">formă de credite</text>
<text x="670.20" y="498.50" font-size="15.5" fill="#1a1a1a" textLength="128.80" lengthAdjust="spacingAndGlyphs">persoanelor fizice</text>
</svg>
</body></html>
